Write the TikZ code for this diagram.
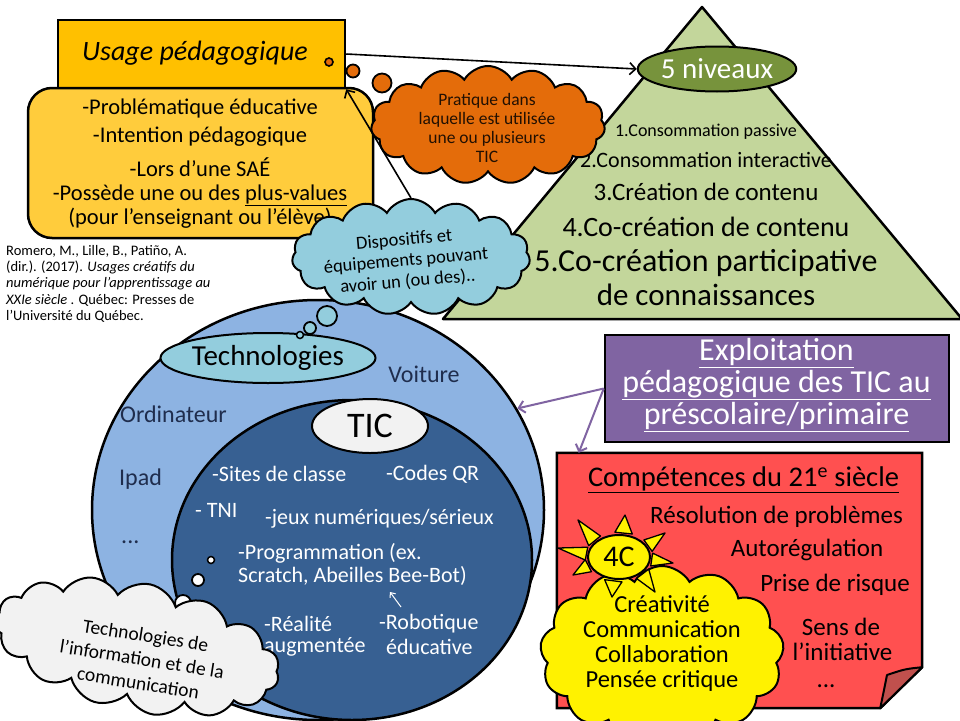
\documentclass[tikz,border=0pt]{standalone}
\usepackage{fontspec}
\setmainfont{Carlito}
\usetikzlibrary{shapes.geometric,shapes.symbols,calc,arrows.meta}
\definecolor{hdr}{HTML}{FFC000}
\definecolor{bodyg}{HTML}{FFCC3C}
\definecolor{orng}{HTML}{E46C0A}
\definecolor{trig}{HTML}{C3D69B}
\definecolor{olive}{HTML}{77933C}
\definecolor{lblue}{HTML}{93CDDD}
\definecolor{outerb}{HTML}{8DB3E2}
\definecolor{innerb}{HTML}{376092}
\definecolor{purp}{HTML}{8064A2}
\definecolor{redn}{HTML}{FF5050}
\definecolor{flapc}{HTML}{C0504D}
\definecolor{navyt}{HTML}{1F2D4D}
\definecolor{lgray}{HTML}{F2F2F2}
\newcommand\fz[2]{\fontsize{#1}{#2}\selectfont}
\begin{document}
\begin{tikzpicture}[x=1pt,y=-1pt,
  bx/.style={draw=black,line width=2.5pt},
  cl/.style={cloud,draw=black,line width=2pt,cloud puffs=15,cloud puff arc=120,cloud ignores aspect,inner sep=0pt},
  bub/.style={circle,draw=black,line width=1.8pt,inner sep=0pt},
  tx/.style={inner sep=0pt,align=center},
  bt/.style={inner sep=0pt,font=\fz{22.5}{24}},
  it/.style={inner sep=0pt,anchor=west,text=white,font=\fz{22}{23}},
  ot/.style={inner sep=0pt,text=navyt,font=\fz{24}{26}},
  rt/.style={inner sep=0pt,font=\fz{25}{26}},
  arr/.style={line width=1.6pt,-{Straight Barb[length=6pt,width=12pt]}},
  parr/.style={draw=purp,line width=2pt,-{Straight Barb[length=6pt,width=12pt]}},
  ray/.style={draw=black,fill=yellow,line width=1.3pt,line join=round},
]
\useasboundingbox (0,0) rectangle (960,720);
\fill[white] (0,0) rectangle (960,720);

% pyramid
\coordinate (apex) at (702,7);
\coordinate (tbl) at (443,319);
\coordinate (tbr) at (962,319);
\draw[bx,fill=trig,line join=round] (apex) -- (tbr) -- (tbl) -- cycle;
\node[ellipse,draw=black,line width=2pt,fill=olive,minimum width=154pt,minimum height=45pt,inner sep=0pt,text=white,font=\fz{29}{30}] (niv) at (717,69) {5 niveaux};
\node[tx,font=\fz{18}{20}] (lv1) at (706,132) {1.Consommation passive};
\node[tx,font=\fz{22}{24}] (lv2) at (706,160) {2.Consommation interactive};
\node[tx,font=\fz{25}{27}] (lv3) at (706,192) {3.Création de contenu};
\node[tx,font=\fz{28}{30}] (lv4) at (706,227) {4.Co-création de contenu};
\node[tx,font=\fz{32}{32}] (lv5) at (706,263) {5.Co-création participative};
\node[tx,font=\fz{31}{32}] (lv6) at (706,295) {de connaissances};

% circles
\node[ellipse,bx,fill=outerb,minimum width=452pt,minimum height=420pt,inner sep=0pt] (outer) at (318,510) {};
\node[ellipse,bx,fill=innerb,minimum width=360pt,minimum height=320pt,inner sep=0pt] (inner) at (352,560) {};
\node[ellipse,draw=black,line width=2pt,fill=lblue,minimum width=206pt,minimum height=50pt,inner sep=0pt,font=\fz{29}{30}] (tech) at (268,358) {Technologies};
\node[ellipse,draw=black,line width=2pt,fill=lgray,minimum width=116pt,minimum height=54pt,inner sep=0pt,font=\fz{36}{36}] (tic) at (370,426) {TIC};
\node[ot] (voit) at (424,374) {Voiture};
\node[ot] (ordi) at (173.5,414) {Ordinateur};
\node[ot,anchor=west] (ipad) at (119,479) {Ipad};
\node[ot,anchor=west] (odots) at (121,542) {...};
\node[it] (sites) at (212,474) {-Sites de classe};
\node[it] (qr) at (386,474) {-Codes QR};
\node[it] (tni) at (195,510) {- TNI};
\node[it] (jeux) at (265,519) {-jeux numériques/sérieux};
\node[it] (prog) at (238,553) {-Programmation (ex.};
\node[it] (scr) at (238,576) {Scratch, Abeilles Bee-Bot)};
\node[it] (real) at (264,624) {-Réalité};
\node[it] (augm) at (264,647) {augmentée};
\node[it] (robo) at (379,624) {-Robotique};
\node[it] (educ) at (386,647) {éducative};
\coordinate (sa1) at (401,607);
\coordinate (sa2) at (390,592);
\draw[white,line width=1pt,-{Straight Barb[length=4pt,width=7pt]}] (sa1) -- (sa2);

% TIC cloud
\node[bub,fill=white,minimum size=7pt,line width=1.5pt] (wb1) at (211,560) {};
\node[bub,fill=white,minimum size=12pt] (wb2) at (198,580) {};
\node[bub,fill=white,minimum size=16pt] (wb3) at (183,603) {};
\node[cl,fill=lgray,minimum width=290pt,minimum height=128pt,rotate=-12] (ticcl) at (137,647) {};
\node[tx,rotate=-9,font=\fz{19.5}{24}] (tictext) at (142,659) {Technologies de\\l’information et de la\\communication};

% usage
\node[bx,fill=hdr,minimum width=287pt,minimum height=68pt,inner sep=0pt] (uhead) at (201.5,54) {};
\node[bx,fill=bodyg,rounded corners=24pt,minimum width=345pt,minimum height=150pt,inner sep=0pt] (ubody) at (200.5,163) {};
\node[tx,font=\fz{28}{30}\itshape] (uhtext) at (195,53) {Usage pédagogique};
\node[bt] (ub1) at (200,108) {-Problématique éducative};
\node[bt] (ub2) at (200,137) {-Intention pédagogique};
\node[bt] (ub3) at (200,167) {-Lors d’une SAÉ};
\node[bt] (ub4) at (200,195) {-Possède une ou des \underline{plus-values}};
\node[bt] (ub5) at (200,218) {(pour l’enseignant ou l’élève)};
\node[inner sep=0pt,anchor=north west,align=left,font=\fz{14.5}{16.3}] (cite) at (6,245) {Romero, M., Lille, B., Patiño, A.\\(dir.). (2017). \textit{Usages créatifs du}\\\textit{numérique pour l’apprentissage au}\\\textit{XXIe siècle} . Québec: Presses de\\l’Université du Québec.};

% orange cloud
\node[cl,fill=orng,minimum width=234pt,minimum height=118pt] (prat) at (488,125) {};
\node[tx,font=\fz{17.5}{18.8},text=black!85!orng] (pratt) at (487,128) {Pratique dans\\laquelle est utilisée\\une ou plusieurs\\TIC};
\node[bub,fill=orng,minimum size=8pt,line width=1.6pt] (ob1) at (329,62) {};
\node[bub,fill=orng,minimum size=13pt] (ob2) at (353,71) {};
\node[bub,fill=orng,minimum size=19pt] (ob3) at (382,83) {};

% blue cloud
\node[cl,fill=lblue,minimum width=238pt,minimum height=116pt] (disp) at (411,257) {};
\node[tx,rotate=5,font=\fz{18.5}{21}] (dispt) at (406,261) {Dispositifs et\\équipements pouvant\\avoir un (ou des)..};
\node[bub,fill=lblue,minimum size=20pt] (db1) at (327,316) {};
\node[bub,fill=lblue,minimum size=12pt] (db2) at (310,328) {};
\node[bub,fill=lblue,minimum size=7pt,line width=1.5pt] (db3) at (300,335) {};

\draw[arr] (uhead.east) -- (niv.west);
\draw[arr] (disp.north) -- (uhead.south east);

% purple
\node[bx,fill=purp,minimum width=344pt,minimum height=107pt,inner sep=0pt] (expl) at (777,388.5) {};
\node[tx,text=white,font=\fz{32}{32}] (explt) at (776.5,385) {\underline{Exploitation}\\\underline{pédagogique des TIC au}\\\underline{préscolaire/primaire}};

% red note
\node[inner sep=0pt,minimum width=365pt,minimum height=255pt] (comp) at (739.5,580.5) {};
\coordinate (fa) at ($(comp.south east)+(0,-41)$);
\coordinate (fb) at ($(comp.south east)+(-42,0)$);
\coordinate (fc) at (887,675);
\draw[bx,fill=redn,line join=miter] (comp.north west) -- (comp.north east) -- (fa) -- (fb) -- (comp.south west) -- cycle;
\draw[line width=2pt,fill=flapc,line join=round] (fa) .. controls (905,669) .. (fc) .. controls (884,690) .. (fb) -- cycle;
\node[tx,font=\fz{28.5}{29}] (ctitle) at (743.5,480) {\underline{Compétences du 21\textsuperscript{e} siècle}};
\node[rt] (c1) at (776.5,517) {Résolution de problèmes};
\node[rt] (c2) at (807,550) {Autorégulation};
\node[rt] (c3) at (835,585) {Prise de risque};
\node[rt] (c4) at (841,627) {Sens de};
\node[rt] (c5) at (842.5,652) {l'initiative};
\node[rt] (c6) at (826,686) {...};

% yellow cloud + sun
\node[cl,fill=yellow,minimum width=244pt,minimum height=176pt,cloud puffs=13] (ccl) at (662,654) {};
\foreach \a/\tx/\ty in {172/558/548, 138/578/520, 82/625/515, 28/665/533, -6/673/563, -44/655/592, -100/612/597, -159/573/575}{
  \draw[ray] ({619+34*cos(\a+15)},{557-25*sin(\a+15)}) -- (\tx,\ty) -- ({619+34*cos(\a-15)},{557-25*sin(\a-15)}) -- cycle;
}
\node[ellipse,draw=black,line width=2pt,fill=yellow,minimum width=62pt,minimum height=44pt,inner sep=0pt,font=\fz{30}{30}] (fourc) at (619,557) {4C};
\node[tx,font=\fz{24.5}{25}] (cclt) at (662,643) {Créativité\\Communication\\Collaboration\\Pensée critique};

\draw[parr] (expl.west) -- (outer.27);
\draw[parr] (expl.west) -- ($(comp.north west)!0.06!(comp.north east)$);
\end{tikzpicture}
\end{document}
